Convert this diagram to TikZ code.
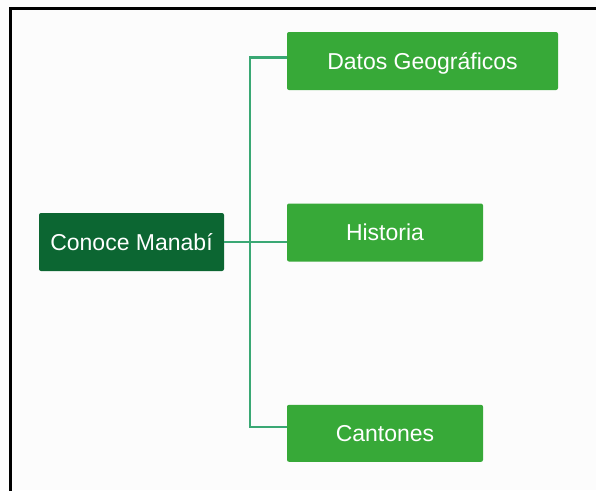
\documentclass[tikz,border=0pt]{standalone}
\usepackage{fontspec}
\setmainfont{Liberation Sans}
\definecolor{rootgreen}{RGB}{12,102,50}
\definecolor{leafgreen}{RGB}{55,169,56}
\definecolor{linkgreen}{RGB}{58,168,116}
\tikzset{
  box/.style={rectangle, rounded corners=2pt, inner sep=0pt, text=white,
    font=\fontsize{23}{27}\selectfont, text height=16.5pt, text depth=0pt,
    minimum height=58pt},
  rootbox/.style={box, fill=rootgreen},
  leafbox/.style={box, fill=leafgreen},
  link/.style={draw=linkgreen, line width=2.6pt},
}
\begin{document}
\begin{tikzpicture}[x=1pt, y=-1pt]
  \useasboundingbox (0,0) rectangle (596,490);
  \fill[white!98.8!black] (0,0) rectangle (596,490);
  \begin{scope}
    \clip (0,0) rectangle (596,490);
    \draw[line width=2.6pt] (10.5,8.5) rectangle (640,540);
  \end{scope}

  \node[rootbox, minimum width=185pt] (root) at (131.5,242) {Conoce Manabí};
  \node[leafbox, minimum width=271pt] (datos) at (422.5,61) {Datos Geográficos};
  \node[leafbox, minimum width=196pt] (hist) at (385,232.5) {Historia};
  \node[leafbox, minimum width=196pt, minimum height=57pt] (cant) at (385,433.3) {Cantones};

  \coordinate (trunk) at (250,242);
  \draw[link] (root.east) -- (hist.west |- root.east);
  \draw[link] ([yshift=3.3pt]datos.west) -| (trunk) |- ([yshift=6.3pt]cant.west);
\end{tikzpicture}
\end{document}
